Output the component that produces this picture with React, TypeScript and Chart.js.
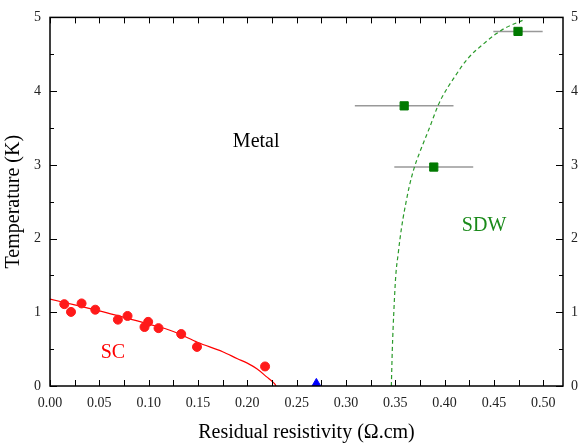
import React, { useEffect, useRef } from 'react';
import { Chart, registerables } from 'chart.js';
Chart.register(...registerables);

// SC measured points (residual resistivity, Tc)
const scX = [0.0145, 0.0213, 0.032, 0.0459, 0.0688, 0.0786, 0.0958, 0.0995, 0.110, 0.133, 0.149, 0.218];
const scT = [1.11, 1.005, 1.12, 1.035, 0.90, 0.95, 0.80, 0.87, 0.785, 0.705, 0.53, 0.265];
// SC fit curve
const scFitX = [0, 0.025, 0.05, 0.075, 0.1, 0.125, 0.15, 0.175, 0.19, 0.2, 0.21, 0.22, 0.225, 0.228, 0.229];
const scFitT = [1.18, 1.10, 1.02, 0.93, 0.84, 0.74, 0.59, 0.465, 0.37, 0.31, 0.23, 0.12, 0.065, 0.025, 0];
// SDW measured points with horizontal error
const sdwX = [0.4744, 0.359, 0.389];
const sdwT = [4.81, 3.80, 2.97];
const sdwErr = [0.025, 0.05, 0.04];
// SDW guide curve
const sdwFitX = [0.3460, 0.3470, 0.3485, 0.3505, 0.353, 0.3548, 0.3578, 0.361, 0.3644, 0.3694, 0.3745, 0.3846, 0.3932, 0.3975, 0.410, 0.4234, 0.442, 0.4514, 0.4605, 0.479];
const sdwFitT = [0, 0.5, 1.0, 1.5, 1.8, 2.0, 2.27, 2.5, 2.72, 2.97, 3.16, 3.5, 3.8, 3.92, 4.19, 4.44, 4.67, 4.77, 4.85, 4.96];
// Blue triangle point
const triX = [0.27];
const triT = [0.035];
// Ticks
const xMajorTicks = [0, 0.05, 0.1, 0.15, 0.2, 0.25, 0.3, 0.35, 0.4, 0.45, 0.5];
const xMinorTicks = [0.025, 0.075, 0.125, 0.175, 0.225, 0.275, 0.325, 0.375, 0.425, 0.475];
const yMajorTicks = [0, 1, 2, 3, 4, 5];
const yMinorTicks = [0.5, 1.5, 2.5, 3.5, 4.5];
// Region labels
const labelText = ['Metal', 'SC', 'SDW'];
const labelX = [0.209, 0.0638, 0.440];
const labelT = [3.24, 0.379, 2.10];
const labelColor = ['#000000', '#ff0000', '#1a8a1a'];

const FONT = '"Liberation Serif", "Times New Roman", serif';

const zip = (xs: number[], ys: number[]) => xs.map((x, i) => ({ x, y: ys[i] }));

const errorBarPlugin = {
  id: 'errorBars',
  beforeDatasetsDraw(chart: any) {
    const { ctx, scales } = chart;
    ctx.save();
    ctx.strokeStyle = '#999999';
    ctx.lineWidth = 1.5;
    sdwX.forEach((x, i) => {
      const y = scales.y.getPixelForValue(sdwT[i]);
      ctx.beginPath();
      ctx.moveTo(scales.x.getPixelForValue(x - sdwErr[i]), y);
      ctx.lineTo(scales.x.getPixelForValue(x + sdwErr[i]), y);
      ctx.stroke();
    });
    ctx.restore();
  },
};

const framePlugin = {
  id: 'frame',
  afterDraw(chart: any) {
    const { ctx, chartArea, scales } = chart;
    const { left, right, top, bottom } = chartArea;
    ctx.save();
    ctx.strokeStyle = '#000';
    ctx.lineWidth = 1;
    const xs = [...xMajorTicks, ...xMinorTicks];
    ctx.beginPath();
    xs.forEach((v) => {
      const px = Math.round(scales.x.getPixelForValue(v)) + 0.5;
      ctx.moveTo(px, bottom);
      ctx.lineTo(px, bottom - 6);
      ctx.moveTo(px, top);
      ctx.lineTo(px, top + 6);
    });
    yMajorTicks.forEach((v) => {
      const py = Math.round(scales.y.getPixelForValue(v)) + 0.5;
      ctx.moveTo(left, py);
      ctx.lineTo(left + 7, py);
      ctx.moveTo(right, py);
      ctx.lineTo(right - 7, py);
    });
    yMinorTicks.forEach((v) => {
      const py = Math.round(scales.y.getPixelForValue(v)) + 0.5;
      ctx.moveTo(left, py);
      ctx.lineTo(left + 4, py);
      ctx.moveTo(right, py);
      ctx.lineTo(right - 4, py);
    });
    ctx.stroke();
    ctx.lineWidth = 1.5;
    ctx.strokeRect(left, top, right - left, bottom - top);
    // labels
    ctx.font = `20px ${FONT}`;
    ctx.textAlign = 'center';
    ctx.textBaseline = 'alphabetic';
    labelText.forEach((t, i) => {
      ctx.fillStyle = labelColor[i];
      ctx.fillText(t, scales.x.getPixelForValue(labelX[i]), scales.y.getPixelForValue(labelT[i]));
    });
    ctx.restore();
  },
};

export default function App() {
  const ref = useRef<HTMLCanvasElement>(null);
  useEffect(() => {
    document.body.style.margin = '0';
    const canvas = ref.current!;
    const chart = new Chart(canvas, {
      type: 'scatter',
      data: {
        datasets: [
          {
            label: 'SC',
            data: zip(scX, scT),
            backgroundColor: '#ff1a1a',
            borderColor: '#ff1a1a',
            pointRadius: 4.5,
            pointStyle: 'circle',
            order: 1,
          },
          {
            label: 'SDW',
            data: zip(sdwX, sdwT),
            backgroundColor: '#007a00',
            borderColor: '#007a00',
            borderWidth: 1,
            pointRadius: 5.8,
            pointStyle: 'rect',
            order: 1,
          },
          {
            label: 'tri',
            data: zip(triX, triT),
            backgroundColor: '#0000ff',
            borderColor: '#0000ff',
            pointRadius: 5,
            pointStyle: 'triangle',
            order: 1,
          },
          {
            label: 'SC fit',
            data: zip(scFitX, scFitT),
            showLine: true,
            borderColor: '#ff0000',
            borderWidth: 1.2,
            pointRadius: 0,
            cubicInterpolationMode: 'monotone',
            order: 5,
          },
          {
            label: 'SDW fit',
            data: zip(sdwFitX, sdwFitT),
            showLine: true,
            borderColor: '#2a9a2a',
            borderWidth: 1.2,
            borderDash: [4, 3],
            pointRadius: 0,
            cubicInterpolationMode: 'monotone',
            order: 5,
          },
        ],
      },
      options: {
        animation: false,
        responsive: false,
        maintainAspectRatio: false,
        layout: { padding: 0 },
        plugins: { legend: { display: false }, tooltip: { enabled: false }, title: { display: false } },
        scales: {
          x: {
            type: 'linear',
            position: 'bottom',
            min: 0,
            max: 0.52,
            grid: { display: false, drawTicks: false },
            border: { display: false },
            afterBuildTicks: (s: any) => { s.ticks = xMajorTicks.map((v) => ({ value: v })); },
            afterFit: (s: any) => { s.height = 61; },
            ticks: {
              autoSkip: false,
              maxRotation: 0,
              padding: 9,
              color: '#222',
              font: { family: FONT, size: 14 },
              callback: (v: any) => Number(v).toFixed(2),
            },
            title: {
              display: true,
              text: 'Residual resistivity (Ω.cm)',
              color: '#000',
              font: { family: FONT, size: 20 },
              padding: { top: 0, bottom: 2 },
            },
          },
          x2: {
            type: 'linear',
            position: 'top',
            min: 0,
            max: 0.52,
            grid: { display: false, drawTicks: false },
            border: { display: false },
            ticks: { display: false },
            afterFit: (s: any) => { s.height = 13; },
          },
          y: {
            type: 'linear',
            position: 'left',
            min: 0,
            max: 5,
            grid: { display: false, drawTicks: false },
            border: { display: false },
            afterBuildTicks: (s: any) => { s.ticks = yMajorTicks.map((v) => ({ value: v })); },
            afterFit: (s: any) => { s.width = 50; },
            ticks: {
              padding: 9,
              color: '#222',
              font: { family: FONT, size: 14 },
            },
            title: {
              display: true,
              text: 'Temperature (K)',
              color: '#000',
              font: { family: FONT, size: 20 },
              padding: { top: 2, bottom: 0 },
            },
          },
          y2: {
            type: 'linear',
            position: 'right',
            min: 0,
            max: 5,
            grid: { display: false, drawTicks: false },
            border: { display: false },
            afterBuildTicks: (s: any) => { s.ticks = yMajorTicks.map((v) => ({ value: v })); },
            afterFit: (s: any) => { s.width = 19; },
            ticks: {
              padding: 8,
              color: '#222',
              font: { family: FONT, size: 14 },
            },
          },
        },
      },
      plugins: [errorBarPlugin, framePlugin],
    } as any);
    return () => chart.destroy();
  }, []);
  return <canvas ref={ref} width={582} height={447} style={{ display: 'block', width: 582, height: 447 }} />;
}
